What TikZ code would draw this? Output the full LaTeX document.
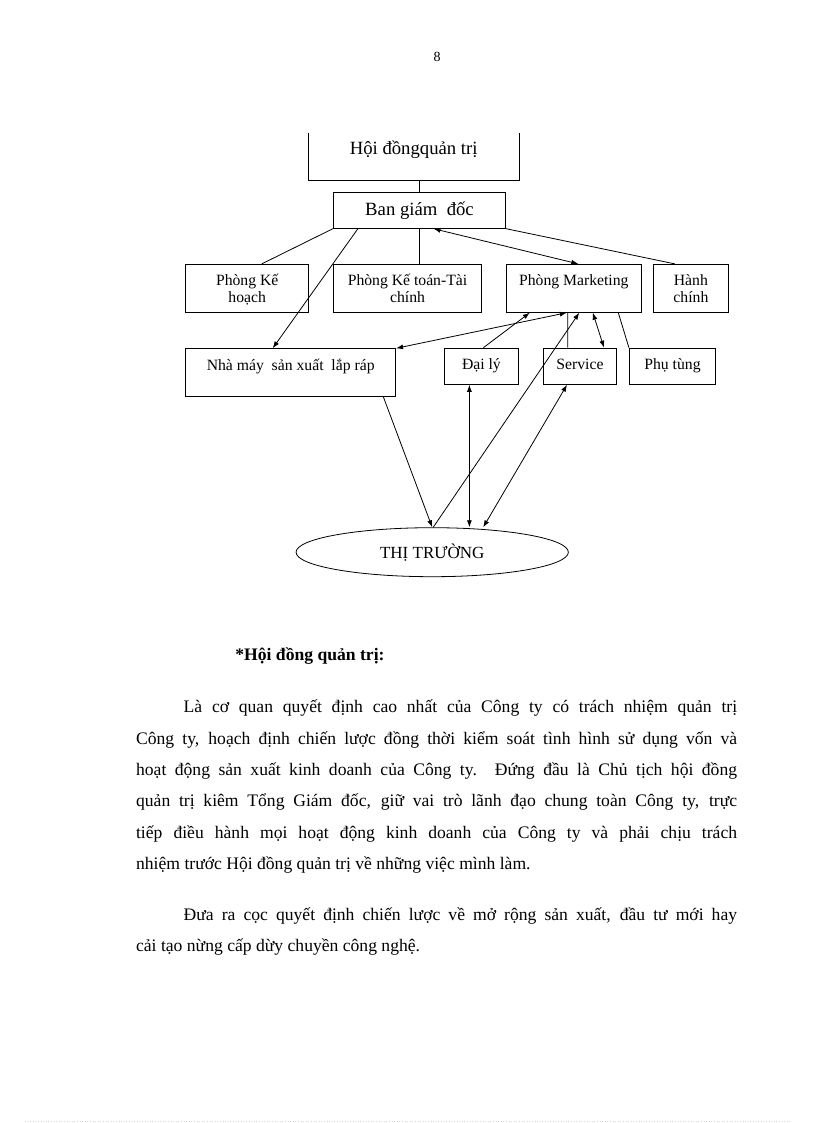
\documentclass[tikz,border=0pt]{standalone}
\usepackage{fontspec}
\setmainfont{Liberation Serif}
\usetikzlibrary{arrows.meta,shapes.geometric}

\newcommand{\boxfont}{\fontsize{15.7}{17.5}\selectfont}
\newcommand{\bigfont}{\fontsize{18.7}{21}\selectfont}
\newcommand{\bodyfont}{\fontsize{17.6}{31.3}\selectfont}
\newcommand{\fullline}[1]{\makebox[601pt][s]{#1}}

\begin{document}
\begin{tikzpicture}[x=1pt,y=-1pt,line width=0.8pt,
  box/.style={draw, inner sep=0pt, font=\boxfont},
  arr/.style={-{Latex[length=7pt,width=5pt]}},
  darr/.style={{Latex[length=7pt,width=5pt]}-{Latex[length=7pt,width=5pt]}},
  txt/.style={inner sep=0pt, anchor=base west, font=\bodyfont}]
\useasboundingbox (0,0) rectangle (816,1123);

\node[inner sep=0pt, font=\fontsize{14}{16}\selectfont] (page) at (437,57) {8};

% boxes of the chart
\node[inner sep=0pt, minimum width=210pt, text height=22pt, text depth=25.3pt, font=\bigfont] (hd) at (413.7,156.65) {Hội đồngquản trị};
\draw (hd.north west) -- (hd.south west) -- (hd.south east) -- (hd.north east);
\node[box, minimum width=172.4pt, text height=23pt, text depth=13.3pt, font=\bigfont] (ban) at (419.5,210.15) {Ban giám\ \ đốc};

\node[box, align=center, minimum width=123pt, text height=38.2pt, text depth=9.8pt] (kh) at (247.2,288.3) {Phòng Kế\\hoạch};
\node[box, align=center, minimum width=148.4pt, text height=38.2pt, text depth=9.8pt] (kt) at (407.5,288.3) {Phòng Kế toán-Tài\\chính};
\node[box, minimum width=135pt, text height=21.4pt, text depth=26.6pt] (mk) at (573.8,288.3) {Phòng Marketing};
\node[box, align=center, minimum width=74.3pt, text height=38.2pt, text depth=9.8pt] (hc) at (690.9,288.3) {Hành\\chính};

\node[box, minimum width=210pt, text height=21.3pt, text depth=26.3pt] (nm) at (290.7,372.5) {Nhà máy\ \ sản xuất\ \ lắp ráp};
\node[box, minimum width=73.9pt, text height=21.3pt, text depth=15pt] (dl) at (481.4,366.2) {Đại lý};
\node[box, minimum width=73.4pt, text height=21.3pt, text depth=15pt] (sv) at (580,366.2) {Service};
\node[box, minimum width=86.4pt, text height=21.3pt, text depth=15pt] (pt) at (672.5,366.2) {Phụ tùng};

\node[draw, ellipse, inner sep=0pt, minimum width=272.3pt, minimum height=49pt, font=\fontsize{17}{19}\selectfont] (tt) at (432.2,552.2) {THỊ TRƯỜNG};

% connectors
\draw (hd.south -| ban.north) -- (ban.north);
\draw (ban.south west) -- ([xshift=14.5pt]kh.north);
\draw[arr] ([xshift=25pt]ban.south west) -- ([xshift=-18pt]nm.north);
\draw (ban.south) -- (ban.south |- kt.north);
\draw[darr] ([xshift=14pt]ban.south) -- ([xshift=4.5pt]mk.north);
\draw (ban.south east) -- ([xshift=-16pt]hc.north);
\draw[darr] ([xshift=-7pt]mk.south) -- (nm.north east);
\draw[arr] ([xshift=2pt]dl.north) -- ([xshift=-44pt]mk.south);
\draw ([xshift=-6pt]mk.south) -- ([xshift=-12.3pt]sv.north);
\draw[darr] ([xshift=19pt]mk.south) -- ([xshift=24pt]sv.north);
\draw ([xshift=44.5pt]mk.south) -- (pt.north west);
\draw[arr] ([xshift=92.6pt]nm.south) -- (tt.north);
\draw[arr] ([xshift=1pt]tt.north) -- ([xshift=5.5pt]mk.south);
\coordinate (dlb) at ([xshift=-12pt]dl.south);
\draw[darr] (dlb) -- (dlb |- tt.north);
\draw[darr] ([xshift=-13pt]sv.south) -- ([xshift=51pt]tt.north);

% text below the chart
\node[txt, font=\bodyfont\bfseries] (head) at (235,660.7) {*Hội đồng quản trị:};
\node[txt] (p1a) at (183.3,712.7) {\makebox[553.4pt][s]{Là cơ quan quyết định cao nhất của Công ty có trách nhiệm quản trị}};
\node[txt] (p1b) at (135.7,744.3) {\fullline{Công ty, hoạch định chiến lược đồng thời kiểm soát tình hình sử dụng vốn và}};
\node[txt] (p1c) at (135.7,775.7) {\fullline{hoạt động sản xuất kinh doanh của Công ty. Đứng đầu là Chủ tịch hội đồng}};
\node[txt] (p1d) at (135.7,806.7) {\fullline{quản trị kiêm Tổng Giám đốc, giữ vai trò lãnh đạo chung toàn Công ty, trực}};
\node[txt] (p1e) at (135.7,838.3) {\fullline{tiếp điều hành mọi hoạt động kinh doanh của Công ty và phải chịu trách}};
\node[txt] (p1f) at (135.7,869.3) {nhiệm trước Hội đồng quản trị về những việc mình làm.};
\node[txt] (p2a) at (183.3,920.7) {\makebox[553.4pt][s]{Đưa ra cọc quyết định chiến lược về mở rộng sản xuất, đầu tư mới hay}};
\node[txt] (p2b) at (135.7,951.7) {cải tạo nừng cấp dừy chuyền công nghệ.};

\draw[green!40, line width=0.6pt, dotted] (25,1121) -- (791,1121);
\end{tikzpicture}
\end{document}
